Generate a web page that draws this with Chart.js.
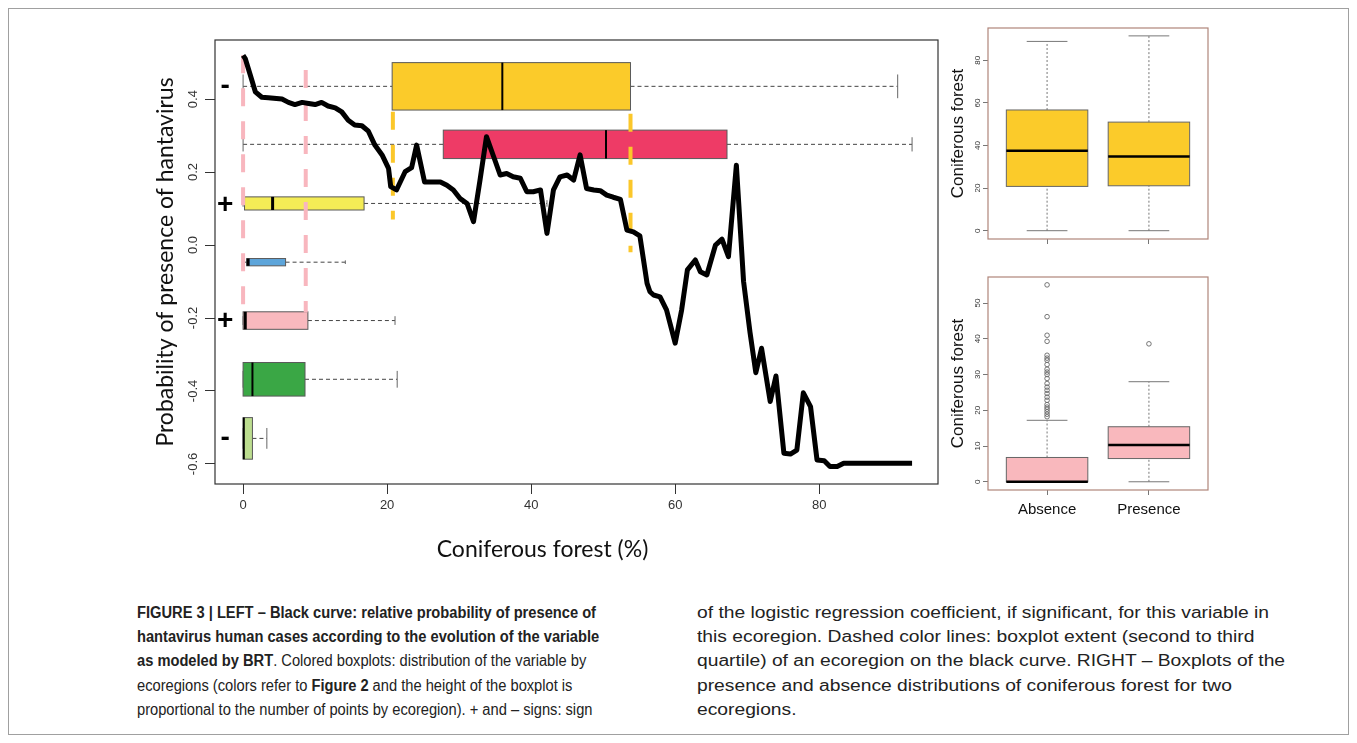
<!DOCTYPE html>
<html>
<head>
<meta charset="utf-8">
<script src="https://cdn.jsdelivr.net/npm/chart.js@4.4.1/dist/chart.umd.min.js"></script>
<style>
  body { margin: 0; background: #fff; width: 1357px; height: 743px; overflow: hidden; position: relative; font-family: "Liberation Sans", Arial, sans-serif; }
  #frame { position: absolute; left: 8px; top: 8px; width: 1341px; height: 727px; border: 1px solid #a0a0a0; box-sizing: border-box; }
  .cv { position: absolute; }
  .cap { position: absolute; white-space: nowrap; font-size: 16px; line-height: 20px; color: #222; transform-origin: 0 50%; }
  .capL { font-family: "Liberation Sans Narrow", "Liberation Sans", Arial, sans-serif; }
  .capR { font-family: "Liberation Sans", Arial, sans-serif; }
</style>
</head>
<body>
<div id="frame"></div>
<div class="cv" style="left:140px;top:30px;width:805px;height:540px"><canvas id="mainChart"></canvas></div>
<div class="cv" style="left:940px;top:20px;width:280px;height:245px"><canvas id="topChart"></canvas></div>
<div class="cv" style="left:940px;top:265px;width:280px;height:265px"><canvas id="botChart"></canvas></div>

<div class="cap capL" style="left:137px;top:603px"><b>FIGURE 3 | LEFT – Black curve: relative probability of presence of</b></div>
<div class="cap capL" style="left:137px;top:627px"><b>hantavirus human cases according to the evolution of the variable</b></div>
<div class="cap capL" style="left:137px;top:651px"><b>as modeled by BRT</b>. Colored boxplots: distribution of the variable by</div>
<div class="cap capL" style="left:137px;top:676px">ecoregions (colors refer to <b>Figure 2</b> and the height of the boxplot is</div>
<div class="cap capL" style="left:137px;top:700px">proportional to the number of points by ecoregion). + and – signs: sign</div>
<div class="cap capR" style="left:697px;top:603px">of the logistic regression coefficient, if significant, for this variable in</div>
<div class="cap capR" style="left:697px;top:627px">this ecoregion. Dashed color lines: boxplot extent (second to third</div>
<div class="cap capR" style="left:697px;top:651px">quartile) of an ecoregion on the black curve. RIGHT – Boxplots of the</div>
<div class="cap capR" style="left:697px;top:676px">presence and absence distributions of coniferous forest for two</div>
<div class="cap capR" style="left:697px;top:700px">ecoregions.</div>

<script>
// ---- Main panel data ----
const curveX = [0, 0.3, 1.0, 1.7, 2.6, 3.5, 5.4, 6.3, 7.2, 8.2, 9.1, 10.0, 10.9, 11.8, 12.8, 13.7, 14.6, 15.5, 16.5, 17.4,
  18.3, 19.3, 20.2, 20.5, 21.3, 22.5, 23.4, 24.1, 25.2, 27.4, 28.3, 29.2, 30.1, 31.1, 32.0, 32.9, 33.8, 34.8, 35.7, 36.6,
  37.5, 38.5, 39.4, 40.3, 41.3, 42.2, 43.1, 44.0, 45.0, 45.9, 46.8, 47.7, 48.7, 49.6, 50.5, 51.4, 52.4, 53.3, 54.2, 55.1,
  56.1, 56.5, 57.0, 57.9, 58.8, 60.0, 60.9, 61.7, 62.8, 63.5, 64.4, 65.6, 66.5, 67.4, 68.5, 69.5, 70.4, 71.2, 72.0, 73.2,
  74.0, 75.1, 76.0, 76.9, 77.8, 78.8, 79.7, 80.7, 81.5, 82.5, 83.4, 92.9];
const curveY = [0.52, 0.511, 0.466, 0.420, 0.405, 0.404, 0.400, 0.391, 0.385, 0.391, 0.388, 0.385, 0.391, 0.381, 0.376, 0.365, 0.342, 0.329, 0.327, 0.312,
  0.274, 0.247, 0.210, 0.160, 0.151, 0.201, 0.212, 0.274, 0.173, 0.173, 0.164, 0.151, 0.128, 0.114, 0.064, 0.178, 0.297, 0.242, 0.192, 0.196,
  0.187, 0.183, 0.146, 0.146, 0.151, 0.032, 0.151, 0.187, 0.192, 0.178, 0.247, 0.155, 0.151, 0.149, 0.137, 0.131, 0.125, 0.041, 0.036, 0.025,
  -0.105, -0.128, -0.137, -0.142, -0.178, -0.269, -0.178, -0.068, -0.041, -0.073, -0.082, 0.000, 0.016, -0.032, 0.219, -0.100, -0.240, -0.350, -0.283, -0.429,
  -0.359, -0.571, -0.573, -0.562, -0.405, -0.443, -0.589, -0.591, -0.607, -0.607, -0.598, -0.598];

// ecoregion boxplots (horizontal), one entry per ecoregion
const boxY    = [0.435, 0.276, 0.114, -0.047, -0.207, -0.368, -0.530];
const boxHalf = [0.065, 0.039, 0.018, 0.010, 0.024, 0.046, 0.057];
const boxLow  = [0, 0, 0, 0, 0, 0, 0];
const boxQ1   = [20.7, 27.8, 0.2, 0.5, 0, 0, 0];
const boxMed  = [36.0, 50.4, 4.1, 0.7, 0.3, 1.3, 0.1];
const boxQ3   = [53.8, 67.2, 16.8, 5.9, 9.0, 8.6, 1.3];
const boxHigh = [90.9, 92.9, 42.2, 14.2, 21.1, 21.4, 3.3];
const boxColors = ['#FBCB2A', '#EE3B66', '#F4EC56', '#5DA5DA', '#F9B9BE', '#3AA745', '#BCDD8F'];

// regression coefficient signs
const signText = ['-', '+', '+', '-'];
const signY = [0.435, 0.110, -0.210, -0.530];

// dashed guide lines (quartile extents on the curve)
const guideX      = [0, 8.7, 20.8, 53.8];
const guideTop    = [0.52, 0.48, 0.365, 0.36];
const guideBottom = [-0.185, -0.185, 0.07, -0.02];
const guideColors = ['#F8B6BE', '#F8B6BE', '#FBC72A', '#FBC72A'];

const xTicks = [0, 20, 40, 60, 80];
const yTicks = [-0.6, -0.4, -0.2, 0.0, 0.2, 0.4];

// ---- Right panels data ----
const groupLabels = ['Absence', 'Presence'];
const topLow = [0, 0], topQ1 = [20.8, 21.1], topMed = [37.6, 34.9], topQ3 = [56.7, 51.0], topHigh = [88.9, 91.5];
const topTicks = [0, 20, 40, 60, 80];
const botLow = [0, 0], botQ1 = [0, 6.5], botMed = [0, 10.3], botQ3 = [6.8, 15.4], botHigh = [17.2, 28.0];
const botTicks = [0, 10, 20, 30, 40, 50];
const absenceOutliers = [55.1, 46.2, 41.0, 39.3, 35.4, 34.6, 34.0, 32.8, 31.5, 30.7, 30.0, 28.9, 27.5, 26.5, 25.6,
  24.7, 23.7, 22.8, 21.6, 20.9, 20.3, 19.6, 18.9, 18.2];
const presenceOutliers = [38.6];

function seg(ctx, x1, y1, x2, y2) {
  ctx.beginPath(); ctx.moveTo(x1, y1); ctx.lineTo(x2, y2); ctx.stroke();
}

function drawRotatedTicks(chart, fmt, font, offset) {
  const {ctx, chartArea} = chart;
  const y = chart.scales.y;
  ctx.save();
  ctx.font = font;
  ctx.fillStyle = '#333';
  ctx.textAlign = 'center';
  ctx.textBaseline = 'middle';
  y.ticks.forEach(t => {
    const py = y.getPixelForValue(t.value);
    ctx.save();
    ctx.translate(chartArea.left - offset, py);
    ctx.rotate(-Math.PI / 2);
    ctx.fillText(fmt(t.value), 0, 0);
    ctx.restore();
  });
  ctx.restore();
}

const mainDecor = {
  id: 'mainDecor',
  beforeDatasetsDraw(chart) {
    const {ctx, scales: {x, y}} = chart;
    boxY.forEach((yv, i) => {
      const yc = y.getPixelForValue(yv);
      const y0 = y.getPixelForValue(yv + boxHalf[i]);
      const y1 = y.getPixelForValue(yv - boxHalf[i]);
      const h = y1 - y0;
      const pLow = x.getPixelForValue(boxLow[i]), pQ1 = x.getPixelForValue(boxQ1[i]);
      const pMed = x.getPixelForValue(boxMed[i]), pQ3 = x.getPixelForValue(boxQ3[i]);
      const pHigh = x.getPixelForValue(boxHigh[i]);
      ctx.save();
      ctx.lineWidth = 1;
      ctx.strokeStyle = '#444';
      ctx.setLineDash([4, 3]);
      seg(ctx, pLow, yc, pQ1, yc);
      seg(ctx, pQ3, yc, pHigh, yc);
      ctx.setLineDash([]);
      ctx.strokeStyle = '#666';
      seg(ctx, pLow, yc - h / 4, pLow, yc + h / 4);
      seg(ctx, pHigh, yc - h / 4, pHigh, yc + h / 4);
      ctx.fillStyle = boxColors[i];
      ctx.fillRect(pQ1, y0, pQ3 - pQ1, h);
      ctx.strokeStyle = '#5a5a5a';
      ctx.strokeRect(pQ1, y0, pQ3 - pQ1, h);
      ctx.strokeStyle = '#000';
      ctx.lineWidth = h < 20 ? 3 : 2;
      seg(ctx, pMed, y0, pMed, y1);
      ctx.restore();
    });
  },
  afterDraw(chart) {
    const {ctx, chartArea, scales: {x, y}} = chart;
    ctx.save();
    ctx.strokeStyle = '#333';
    ctx.lineWidth = 1.2;
    ctx.strokeRect(chartArea.left, chartArea.top, chartArea.right - chartArea.left, chartArea.bottom - chartArea.top);
    // signs
    ctx.fillStyle = '#000';
    ctx.font = 'bold 28px "Liberation Sans", Arial';
    ctx.textAlign = 'center';
    ctx.textBaseline = 'middle';
    signText.forEach((s, i) => {
      ctx.fillText(s, x.getPixelForValue(-2.5), y.getPixelForValue(signY[i]));
    });
    // x axis title
    ctx.font = '23px Lato, "Open Sans", sans-serif';
    ctx.fillStyle = '#111';
    ctx.fillText('Coniferous forest (%)', chart.width / 2, chartArea.bottom + 66);
    ctx.restore();
    drawRotatedTicks(chart, v => v.toFixed(1), '13px "Liberation Sans", Arial', 22);
  }
};

const guideSets = guideX.map((gx, i) => ({
  data: [{x: gx, y: guideTop[i]}, {x: gx, y: guideBottom[i]}],
  borderColor: guideColors[i],
  borderWidth: 4,
  borderDash: [18, 15],
  pointRadius: 0,
  showLine: true
}));

new Chart(document.getElementById('mainChart'), {
  type: 'scatter',
  data: {
    datasets: [{
      data: curveX.map((v, i) => ({x: v, y: curveY[i]})),
      borderColor: '#000',
      borderWidth: 5,
      pointRadius: 0,
      showLine: true,
      tension: 0,
      borderJoinStyle: 'round'
    }, ...guideSets]
  },
  options: {
    responsive: true,
    maintainAspectRatio: false,
    animation: false,
    layout: {padding: {top: 10, right: 7, left: 0, bottom: 0}},
    plugins: {legend: {display: false}, tooltip: {enabled: false}},
    scales: {
      x: {
        type: 'linear', min: -3.9, max: 96.5,
        afterBuildTicks: s => { s.ticks = xTicks.map(v => ({value: v})); },
        afterFit: s => { s.height = 86; },
        grid: {drawOnChartArea: false, drawTicks: true, tickLength: 10, color: '#333'},
        border: {display: false},
        ticks: {font: {size: 13, family: 'Liberation Sans'}, color: '#333', padding: 4, maxRotation: 0}
      },
      y: {
        type: 'linear', min: -0.655, max: 0.562,
        afterBuildTicks: s => { s.ticks = yTicks.map(v => ({value: v})); },
        afterFit: s => { s.width = 75; },
        grid: {drawOnChartArea: false, drawTicks: true, tickLength: 10, color: '#333'},
        border: {display: false},
        ticks: {display: false},
        title: {
          display: true,
          text: 'Probability of presence of hantavirus',
          font: {family: 'Lato', size: 23},
          color: '#111',
          padding: {top: 12, bottom: 0}
        }
      }
    }
  },
  plugins: [mainDecor]
});

// ---- Right panels ----
const rightDecor = {
  id: 'rightDecor',
  beforeDatasetsDraw(chart, args, o) {
    const {ctx, scales: {x, y}} = chart;
    o.q1.forEach((q1, i) => {
      const cx = x.getPixelForValue(i + 1);
      const hw = x.getPixelForValue(i + 1.4) - cx;
      const pLow = y.getPixelForValue(o.low[i]), pQ1 = y.getPixelForValue(q1);
      const pMed = y.getPixelForValue(o.med[i]), pQ3 = y.getPixelForValue(o.q3[i]);
      const pHigh = y.getPixelForValue(o.high[i]);
      ctx.save();
      ctx.lineWidth = 1;
      ctx.strokeStyle = '#777';
      ctx.setLineDash([2, 2]);
      seg(ctx, cx, pLow, cx, pQ1);
      seg(ctx, cx, pQ3, cx, pHigh);
      ctx.setLineDash([]);
      seg(ctx, cx - hw / 2, pLow, cx + hw / 2, pLow);
      seg(ctx, cx - hw / 2, pHigh, cx + hw / 2, pHigh);
      ctx.fillStyle = o.color;
      ctx.fillRect(cx - hw, pQ3, 2 * hw, pQ1 - pQ3);
      ctx.strokeStyle = '#666';
      ctx.strokeRect(cx - hw, pQ3, 2 * hw, pQ1 - pQ3);
      ctx.strokeStyle = '#000';
      ctx.lineWidth = 2.5;
      seg(ctx, cx - hw, pMed, cx + hw, pMed);
      ctx.restore();
    });
  },
  afterDraw(chart) {
    const {ctx, chartArea} = chart;
    ctx.save();
    ctx.strokeStyle = '#b0857a';
    ctx.lineWidth = 1.2;
    ctx.strokeRect(chartArea.left, chartArea.top, chartArea.right - chartArea.left, chartArea.bottom - chartArea.top);
    ctx.restore();
    drawRotatedTicks(chart, v => String(v), '8px "Liberation Sans", Arial', 10);
  }
};

function rightChart(id, o, yMin, yMax, ticks, padTop, xHeight, showLabels, outliers) {
  new Chart(document.getElementById(id), {
    type: 'scatter',
    data: {
      datasets: [{
        data: outliers,
        pointStyle: 'circle',
        pointRadius: 2.3,
        borderColor: '#666',
        backgroundColor: 'rgba(0,0,0,0)',
        borderWidth: 0.9
      }]
    },
    options: {
      responsive: true,
      maintainAspectRatio: false,
      animation: false,
      layout: {padding: {top: padTop, right: 12, left: 0, bottom: 0}},
      plugins: {legend: {display: false}, tooltip: {enabled: false}, rightDecor: o},
      scales: {
        x: {
          type: 'linear', min: 0.42, max: 2.58,
          afterBuildTicks: s => { s.ticks = [1, 2].map(v => ({value: v})); },
          afterFit: s => { s.height = xHeight; },
          grid: {drawOnChartArea: false, drawTicks: true, tickLength: 5, color: '#777'},
          border: {display: false},
          ticks: {
            display: showLabels,
            font: {size: 15, family: 'Liberation Sans'},
            color: '#111',
            padding: 6,
            maxRotation: 0,
            callback: v => groupLabels[v - 1]
          }
        },
        y: {
          type: 'linear', min: yMin, max: yMax,
          afterBuildTicks: s => { s.ticks = ticks.map(v => ({value: v})); },
          afterFit: s => { s.width = 48; },
          grid: {drawOnChartArea: false, drawTicks: true, tickLength: 5, color: '#777'},
          border: {display: false},
          ticks: {display: false},
          title: {
            display: true,
            text: 'Coniferous forest',
            font: {family: 'Liberation Sans', size: 17},
            color: '#111',
            padding: {top: 8, bottom: 0}
          }
        }
      }
    },
    plugins: [rightDecor]
  });
}

rightChart('topChart',
  {low: topLow, q1: topQ1, med: topMed, q3: topQ3, high: topHigh, color: '#FBCB2A'},
  -3.9, 95.2, topTicks, 8, 26, false, []);

rightChart('botChart',
  {low: botLow, q1: botQ1, med: botMed, q3: botQ3, high: botHigh, color: '#F9B8BD'},
  -2.3, 57.3, botTicks, 12, 40, true,
  absenceOutliers.map(v => ({x: 1, y: v})).concat(presenceOutliers.map(v => ({x: 2, y: v}))));

// fit caption columns to the measured width of their first line
function fitCaption(cls, target) {
  const lines = document.querySelectorAll('.' + cls);
  const w = lines[0].getBoundingClientRect().width;
  const k = target / w;
  lines.forEach(el => { el.style.transform = 'scaleX(' + k + ')'; });
}
fitCaption('capL', 459);
fitCaption('capR', 572);
</script>
</body>
</html>
